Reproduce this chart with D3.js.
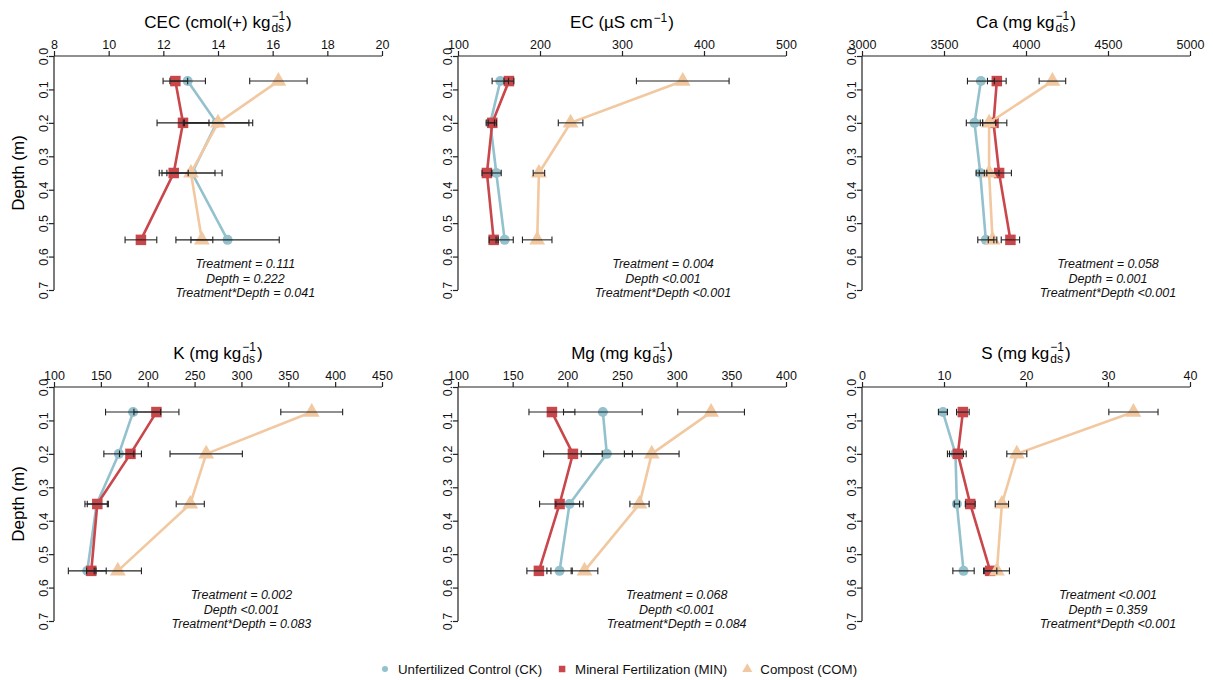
<!DOCTYPE html>
<html>
<head>
<meta charset="utf-8">
<script src="https://cdn.jsdelivr.net/npm/d3@7"></script>
<style>
  body { margin: 0; background: #fff; }
  svg { font-family: "Liberation Sans", Arial, sans-serif; }
</style>
</head>
<body>
<svg id="chart" width="1213" height="680"></svg>
<script>
// sampling depths (m) and treatments
const depths = [0.075, 0.2, 0.35, 0.55];
const depthTicks = [0, 0.1, 0.2, 0.3, 0.4, 0.5, 0.6, 0.7];
const treatments = ["Unfertilized Control (CK)", "Mineral Fertilization (MIN)", "Compost (COM)"];

// means per treatment (CK, MIN, COM) and error (+/-)
const cecMeans = [[12.89, 13.95, 13.05, 14.35], [12.44, 12.72, 12.38, 11.18], [16.21, 14.0, 13.01, 13.41]];
const cecErrs  = [[0.65, 1.18, 1.1, 1.89], [0.45, 0.95, 0.53, 0.58], [1.05, 1.27, 0.88, 0.4]];
const ecMeans  = [[151.6, 139.4, 146.7, 156.9], [162.1, 141.8, 135.3, 143.5], [374.1, 237.3, 198.7, 196.6]];
const ecErrs   = [[10, 5, 6, 10.5], [6, 5, 6, 5.5], [56.5, 15, 7, 18]];
const caMeans  = [[3725, 3686, 3721, 3755], [3822, 3802, 3836, 3905], [4161, 3775, 3775, 3796]];
const caErrs   = [[82, 50, 25, 49], [57, 81, 75, 56], [81, 40, 60, 26]];
const kMeans   = [[184.4, 169.2, 145.5, 135.5], [209.3, 181.6, 146.2, 139.8], [375, 262.4, 245.4, 168.1]];
const kErrs    = [[29.4, 16, 12.5, 20.2], [24, 11.7, 10.7, 5], [33, 38.6, 15, 25.2]];
const mgMeans  = [[232.5, 236.1, 202, 192.9], [185.9, 205.1, 192.9, 174], [331.5, 277.2, 266, 215.7]];
const mgErrs   = [[36, 23.4, 12.5, 11.6], [21, 26.8, 18.3, 11], [30.5, 25, 8.8, 12.2]];
const sMeans   = [[9.87, 11.4, 11.57, 12.38], [12.3, 11.69, 13.2, 15.63], [33.1, 18.88, 17.06, 16.45]];
const sErrs    = [[0.55, 0.98, 0.32, 1.3], [0.77, 1.02, 0.6, 0.81], [3.0, 1.22, 0.81, 1.53]];

// x axis ticks
const cecTicks = [8, 10, 12, 14, 16, 18, 20];
const ecTicks  = [100, 200, 300, 400, 500];
const caTicks  = [3000, 3500, 4000, 4500, 5000];
const kTicks   = [100, 150, 200, 250, 300, 350, 400, 450];
const mgTicks  = [100, 150, 200, 250, 300, 350, 400];
const sTicks   = [0, 10, 20, 30, 40];

// p-value labels
const cecStats = ["Treatment = 0.111", "Depth = 0.222", "Treatment*Depth = 0.041"];
const ecStats  = ["Treatment = 0.004", "Depth <0.001", "Treatment*Depth <0.001"];
const caStats  = ["Treatment = 0.058", "Depth = 0.001", "Treatment*Depth <0.001"];
const kStats   = ["Treatment = 0.002", "Depth <0.001", "Treatment*Depth = 0.083"];
const mgStats  = ["Treatment = 0.068", "Depth <0.001", "Treatment*Depth = 0.084"];
const sStats   = ["Treatment <0.001", "Depth = 0.359", "Treatment*Depth <0.001"];

const colors = ["#93c1cd", "#c9464b", "#f2c8a1"];
const svg = d3.select("#chart");
const pw = 328, ph = 234;

const panels = [
  {left: 54,  top: 56,  title: "CEC (cmol(+) kg", sub: true,  means: cecMeans, errs: cecErrs, ticks: cecTicks, stats: cecStats, statX: 15,   ylab: true},
  {left: 458, top: 56,  title: "EC (\u00b5S cm",  sub: false, means: ecMeans,  errs: ecErrs,  ticks: ecTicks,  stats: ecStats,  statX: 350,  ylab: false},
  {left: 862, top: 56,  title: "Ca (mg kg",       sub: true,  means: caMeans,  errs: caErrs,  ticks: caTicks,  stats: caStats,  statX: 4500, ylab: false},
  {left: 54,  top: 387, title: "K (mg kg",        sub: true,  means: kMeans,   errs: kErrs,   ticks: kTicks,   stats: kStats,   statX: 300,  ylab: true},
  {left: 458, top: 387, title: "Mg (mg kg",       sub: true,  means: mgMeans,  errs: mgErrs,  ticks: mgTicks,  stats: mgStats,  statX: 300,  ylab: false},
  {left: 862, top: 387, title: "S (mg kg",        sub: true,  means: sMeans,   errs: sErrs,   ticks: sTicks,   stats: sStats,   statX: 30,   ylab: false}
];

function marker(sel, i, size) {
  if (i === 0) {
    sel.append("circle").attr("r", size * 0.5);
  } else if (i === 1) {
    sel.append("rect").attr("x", -size * 0.5).attr("y", -size * 0.5).attr("width", size).attr("height", size);
  } else {
    sel.append("path").attr("d", d3.symbol().type(d3.symbolTriangle).size(size * size * 0.55)());
  }
}

function drawTitle(g, cx, base, text, hasSub) {
  const t = g.append("g");
  const main = t.append("text").attr("y", base).style("font-size", "17px").text(text);
  const w1 = main.node().getComputedTextLength();
  const sup = t.append("text").attr("x", w1 + 1).attr("y", hasSub ? base - 8.5 : base - 6)
    .style("font-size", "12px").text("\u22121");
  let w2 = sup.node().getComputedTextLength();
  if (hasSub) {
    const sb = t.append("text").attr("x", w1 + 1).attr("y", base + 4).style("font-size", "12px").text("ds");
    w2 = Math.max(w2, sb.node().getComputedTextLength());
  }
  const close = t.append("text").attr("x", w1 + w2 + 2).attr("y", base).style("font-size", "17px").text(")");
  const total = w1 + w2 + 2 + close.node().getComputedTextLength();
  t.attr("transform", `translate(${cx - total / 2},0)`);
}

panels.forEach(p => {
  const g = svg.append("g").attr("transform", `translate(${p.left},${p.top})`);
  const x = d3.scaleLinear().domain(d3.extent(p.ticks)).range([0, pw]);
  const y = d3.scaleLinear().domain([0, 0.7]).range([0, ph]);

  // top x axis
  const xa = g.append("g").call(d3.axisTop(x).tickValues(p.ticks).tickSize(5).tickSizeOuter(0)
    .tickPadding(2).tickFormat(d3.format("d")));
  xa.selectAll("text").style("font-size", "12.5px").attr("fill", "#111");
  xa.selectAll("path, line").attr("stroke", "#222").attr("stroke-width", 1.2);
  xa.select(".domain").attr("d", `M0,0H${pw}`);

  // left y axis with rotated labels
  const ya = g.append("g").call(d3.axisLeft(y).tickValues(depthTicks).tickSize(5).tickSizeOuter(0).tickFormat(d3.format(".1f")));
  ya.selectAll("text").attr("x", 0).attr("dy", null).attr("text-anchor", "middle")
    .attr("transform", "translate(-6.5,0) rotate(-90)").style("font-size", "12.5px").attr("fill", "#111");
  ya.selectAll("path, line").attr("stroke", "#222").attr("stroke-width", 1.2);
  ya.select(".domain").attr("d", `M0,0V${ph}`);

  drawTitle(g, pw / 2, -28, p.title, p.sub);

  if (p.ylab) {
    g.append("text").attr("text-anchor", "middle").attr("transform", `translate(-30,${ph / 2}) rotate(-90)`)
      .style("font-size", "17px").text("Depth (m)");
  }

  const line = d3.line().x(d => x(d[0])).y(d => y(d[1]));
  p.means.forEach((vals, i) => {
    const pts = vals.map((v, j) => [v, depths[j]]);
    g.append("path").attr("d", line(pts)).attr("fill", "none").attr("stroke", colors[i]).attr("stroke-width", 2.6);
    const m = g.append("g").attr("fill", colors[i]);
    pts.forEach(d => {
      const s = m.append("g").attr("transform", `translate(${x(d[0])},${y(d[1])})`);
      marker(s, i, i === 0 ? 10 : (i === 1 ? 10.5 : 14));
    });
  });

  // error bars
  const eb = g.append("g").attr("stroke", "#222").attr("stroke-width", 1.1);
  p.means.forEach((vals, i) => {
    vals.forEach((v, j) => {
      const e = p.errs[i][j];
      const yy = y(depths[j]);
      const x1 = x(v - e), x2 = x(v + e);
      eb.append("line").attr("x1", x1).attr("x2", x2).attr("y1", yy).attr("y2", yy);
      eb.append("line").attr("x1", x1).attr("x2", x1).attr("y1", yy - 3.3).attr("y2", yy + 3.3);
      eb.append("line").attr("x1", x2).attr("x2", x2).attr("y1", yy - 3.3).attr("y2", yy + 3.3);
    });
  });

  // statistics text
  p.stats.forEach((s, k) => {
    g.append("text").attr("x", x(p.statX)).attr("y", 212 + k * 14.5).attr("text-anchor", "middle")
      .style("font-size", "12.5px").style("font-style", "italic").attr("fill", "#111").text(s);
  });
});

// legend, items laid out one after the other
const lg = svg.append("g");
let lx = 385;
treatments.forEach((t, i) => {
  const s = lg.append("g").attr("transform", `translate(${lx},669)`).attr("fill", colors[i]);
  marker(s, i, i === 0 ? 6 : (i === 1 ? 6.5 : 9));
  const txt = lg.append("text").attr("x", lx + 13).attr("y", 673.5).style("font-size", "13.3px")
    .attr("fill", "#111").text(t);
  lx += 13 + txt.node().getComputedTextLength() + 20;
});
</script>
</body>
</html>
